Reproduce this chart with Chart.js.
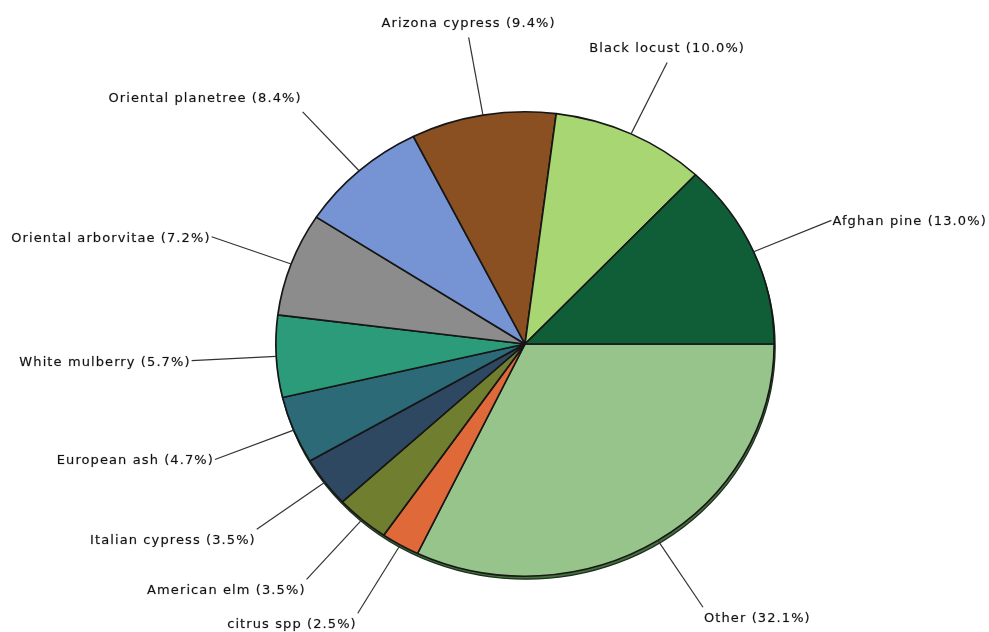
<!DOCTYPE html>
<html lang="en">
<head>
  <meta charset="UTF-8" />
  <title>Tree species share</title>
  <script src="https://cdn.jsdelivr.net/npm/chart.js"></script>
  <style>
    html, body { margin: 0; padding: 0; background: #fff; }
    #wrap { width: 989px; height: 632px; }
  </style>
</head>
<body>
  <div id="wrap">
    <canvas id="treeChart" width="989" height="632"></canvas>
  </div>

  <script>
    // species, going clockwise from 3 o'clock
    const species = ['Other', 'citrus spp', 'American elm', 'Italian cypress', 'European ash',
                     'White mulberry', 'Oriental arborvitae', 'Oriental planetree',
                     'Arizona cypress', 'Black locust', 'Afghan pine'];
    const shares = [32.1, 2.5, 3.5, 3.5, 4.7, 5.7, 7.2, 8.4, 9.4, 10.0, 13.0];
    const sliceColors = ['#97c48b', '#e0693a', '#6f7f2f', '#2f4862', '#2d6a78',
                         '#2b9b79', '#8c8c8c', '#7693d3', '#8a5021', '#a7d672', '#0f5e38'];

    const squash = 0.932;     // pie is drawn slightly flattened
    const leader = 1.34;      // leader line ends at this fraction of the radius

    const pieLabels = {
      id: 'pieLabels',
      beforeDatasetsDraw(chart) {
        const arc = chart.getDatasetMeta(0).data[0];
        const { x, y, outerRadius } = arc.getProps(['x', 'y', 'outerRadius'], true);
        const ctx = chart.ctx;
        // thin rim under the pie
        ctx.save();
        ctx.beginPath();
        ctx.ellipse(x + 1, y + 3, outerRadius, outerRadius * squash, 0, 0, 2 * Math.PI);
        ctx.fillStyle = '#46703f';
        ctx.fill();
        ctx.strokeStyle = '#1d321c';
        ctx.lineWidth = 1.3;
        ctx.stroke();
        ctx.restore();
        // flatten the slices
        ctx.save();
        ctx.translate(x, y);
        ctx.scale(1, squash);
        ctx.translate(-x, -y);
      },
      afterDatasetsDraw(chart) {
        const ctx = chart.ctx;
        ctx.restore();
        const meta = chart.getDatasetMeta(0);
        ctx.save();
        ctx.font = '13px "DejaVu Sans"';
        ctx.letterSpacing = '1.1px';
        meta.data.forEach((el, i) => {
          const p = el.getProps(['x', 'y', 'startAngle', 'endAngle', 'outerRadius'], true);
          const mid = (p.startAngle + p.endAngle) / 2;
          const c = Math.cos(mid), s = Math.sin(mid);
          const ex = p.x + p.outerRadius * c;
          const ey = p.y + p.outerRadius * s * squash;
          const lx = p.x + p.outerRadius * leader * c;
          const ly = p.y + p.outerRadius * leader * s * squash;

          ctx.beginPath();
          ctx.moveTo(ex, ey);
          ctx.lineTo(lx, ly);
          ctx.strokeStyle = '#333333';
          ctx.lineWidth = 1.2;
          ctx.stroke();

          const text = species[i] + ' (' + shares[i].toFixed(1) + '%)';
          const up = -s;
          let tx, ty;
          if (up > 0.5 && Math.abs(c) < 0.45) {
            ctx.textAlign = 'center';
            tx = lx;
          } else if (c > 0) {
            ctx.textAlign = 'left';
            tx = lx + 1;
          } else {
            ctx.textAlign = 'right';
            tx = lx - 1;
          }
          if (up > 0.5) ty = ly - 10;
          else if (up < -0.5) ty = ly + 15;
          else ty = ly + 5;
          ctx.textBaseline = 'alphabetic';
          ctx.fillStyle = '#111111';
          ctx.strokeStyle = 'rgba(17,17,17,0.35)';
          ctx.lineWidth = 0.5;
          ctx.fillText(text, tx, ty);
          ctx.strokeText(text, tx, ty);
        });
        ctx.restore();
      }
    };

    new Chart(document.getElementById('treeChart'), {
      type: 'pie',
      data: {
        labels: species,
        datasets: [{
          data: shares,
          backgroundColor: sliceColors,
          borderColor: '#161616',
          borderWidth: 1.7,
          borderAlign: 'center'
        }]
      },
      options: {
        responsive: false,
        animation: false,
        events: [],
        rotation: 90,
        layout: { padding: { left: 275, right: 214, top: 94, bottom: 38 } },
        plugins: {
          legend: { display: false },
          tooltip: { enabled: false }
        }
      },
      plugins: [pieLabels]
    });
  </script>
</body>
</html>
